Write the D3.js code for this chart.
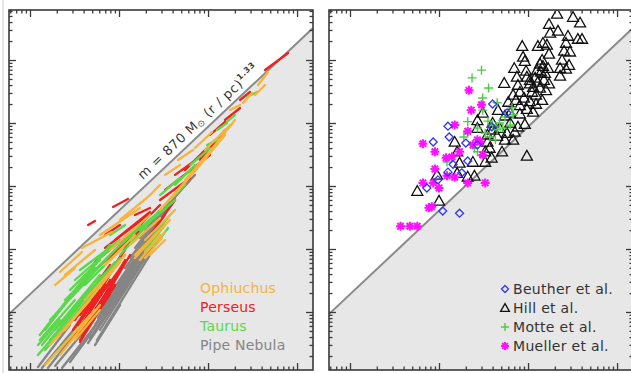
<!DOCTYPE html>
<html>
<head>
<meta charset="utf-8">
<script src="https://cdn.jsdelivr.net/npm/d3@7"></script>
<style>
  body { margin: 0; background: #fff; }
  svg { display: block; font-family: "DejaVu Sans", sans-serif; }
</style>
</head>
<body>
<svg id="chart" width="631" height="373"></svg>
<script>
// Axis extents: radius in pc, mass in Msun
const rRange = [0.00581, 15.1];
const mRange = [0.12, 62200];

// Threshold relation m = 870 Msun (r/pc)^1.33
const lawCoef = 870;
const lawExp = 1.33;

// Left panel: mass-size tracks, each [r0, m0, r1, m1]
const pipeTracks = [
  [0.0384, 0.299, 0.151, 4.99], [0.0415, 0.359, 0.172, 6.22], [0.0449, 0.322, 0.196, 7.19],
  [0.0472, 0.387, 0.212, 8.96], [0.0511, 0.431, 0.223, 11.6], [0.0426, 0.518, 0.133, 5.57],
  [0.0537, 0.622, 0.196, 9.64], [0.0581, 0.803, 0.223, 13.9], [0.0612, 1.0, 0.254, 16.7],
  [0.0498, 0.694, 0.117, 3.87], [0.0697, 1.29, 0.223, 14.9], [0.0793, 1.67, 0.254, 18.6],
  [0.0902, 2.40, 0.289, 24.0], [0.1026, 3.22, 0.289, 26.8], [0.117, 4.99, 0.329, 34.6],
  [0.133, 7.19, 0.374, 49.9], [0.151, 10.4, 0.426, 64.5], [0.172, 14.9, 0.551, 104],
  [0.196, 20.0, 0.628, 124], [0.223, 26.8, 0.714, 150], [0.0123, 0.134, 0.0281, 0.622],
  [0.0136, 0.129, 0.0365, 0.694], [0.0159, 0.129, 0.0346, 0.518], [0.0191, 0.139, 0.0415, 0.518],
  [0.0229, 0.129, 0.0449, 0.431], [0.0281, 0.161, 0.0472, 0.431],
  [0.0566, 0.359, 0.223, 8.03], [0.0612, 0.518, 0.235, 10.4], [0.0537, 0.299, 0.1026, 1.29],
  [0.0697, 0.896, 0.172, 6.22]
];
const perseusTracks = [
  [0.032, 0.431, 0.0793, 3.22], [0.0365, 0.359, 0.0902, 2.68], [0.0346, 0.622, 0.0697, 2.68],
  [0.0415, 0.518, 0.1026, 4.64], [0.0472, 0.746, 0.117, 6.69], [0.0537, 0.896, 0.133, 8.03],
  [0.0365, 0.896, 0.0612, 2.23], [0.0537, 1.55, 0.133, 13.9], [0.0449, 24.0, 0.0537, 27.8],
  [0.0857, 46.4, 0.126, 62.2], [0.0537, 4.64, 0.151, 16.7], [0.0793, 6.69, 0.223, 28.9],
  [0.117, 13.9, 0.289, 49.9], [0.151, 34.6, 0.223, 44.7], [0.289, 59.9, 0.628, 134],
  [0.329, 86.4, 1.05, 310], [0.426, 150, 0.813, 288], [0.551, 179, 1.20, 537],
  [0.813, 259, 1.55, 774], [1.05, 645, 1.55, 1038], [1.55, 1117, 2.29, 1730],
  [2.29, 2318, 2.96, 3105], [4.37, 6930, 7.93, 12900], [0.223, 16.7, 0.426, 59.9],
  [0.0612, 2.68, 0.117, 9.64], [0.0415, 1.55, 0.0793, 5.57], [0.0697, 16.7, 0.1026, 24.0],
  [0.0304, 0.518, 0.0612, 2.23], [0.032, 0.431, 0.066, 2.08], [0.0337, 0.387, 0.0697, 1.86],
  [0.0365, 0.482, 0.0752, 2.23], [0.0384, 0.416, 0.0793, 1.93], [0.0415, 0.518, 0.0833, 2.40],
  [0.032, 0.746, 0.0581, 2.68], [0.0449, 0.622, 0.0902, 2.68], [0.0365, 0.334, 0.0537, 0.803],
  [0.0472, 1.08, 0.117, 6.22], [0.0537, 6.22, 0.172, 24.0], [0.0697, 10.4, 0.212, 34.6],
  [0.0902, 13.9, 0.223, 38.7]
];
const taurusTracks = [
  [0.0129, 0.431, 0.0793, 11.6], [0.0148, 0.518, 0.0537, 5.57], [0.0136, 0.299, 0.0612, 3.87],
  [0.0168, 0.746, 0.0415, 2.89], [0.0191, 0.896, 0.0793, 8.03], [0.0217, 1.08, 0.0537, 4.99],
  [0.0281, 2.23, 0.0612, 6.69], [0.0247, 1.55, 0.1026, 11.6], [0.0123, 0.208, 0.0365, 1.29],
  [0.0148, 0.144, 0.0472, 0.896], [0.0415, 2.68, 0.133, 13.9], [0.0612, 5.57, 0.172, 24.0],
  [0.1026, 11.6, 0.254, 34.6], [0.223, 10.4, 0.329, 18.6], [0.254, 11.6, 0.356, 21.5],
  [0.172, 20.0, 0.426, 59.9], [0.254, 34.6, 0.551, 104], [0.289, 71.9, 0.484, 134],
  [0.426, 104, 0.714, 215], [0.628, 215, 1.05, 401], [0.975, 448, 1.48, 600],
  [1.26, 774, 1.63, 1000], [1.63, 1038, 2.01, 1340], [2.74, 2590, 3.56, 3105],
  [0.0793, 16.7, 0.117, 24.0], [0.1026, 8.03, 0.223, 26.8],
  [0.0129, 0.359, 0.032, 1.55], [0.0148, 0.249, 0.0612, 2.68], [0.0168, 0.359, 0.0697, 3.87],
  [0.0191, 0.518, 0.0902, 6.22], [0.0217, 0.622, 0.1026, 7.19], [0.0281, 0.896, 0.117, 8.03],
  [0.0123, 0.299, 0.0217, 0.746], [0.032, 3.22, 0.0902, 11.6], [0.0365, 4.64, 0.1026, 13.9],
  [0.196, 9.64, 0.329, 24.0], [0.223, 13.9, 0.374, 34.6]
];
const ophiuchusTracks = [
  [0.0191, 2.68, 0.032, 4.99], [0.0247, 3.87, 0.0537, 9.64], [0.0384, 10.4, 0.0833, 18.6],
  [0.0612, 16.7, 0.172, 44.7], [0.0793, 9.64, 0.223, 34.6], [0.223, 71.9, 0.289, 104],
  [0.329, 150, 0.484, 215], [0.46, 259, 0.678, 373], [0.714, 401, 1.11, 720],
  [1.77, 1608, 2.29, 1931], [2.47, 2076, 3.12, 2993], [3.65, 4010, 4.72, 6450],
  [0.0168, 0.299, 0.0415, 1.29], [0.0217, 0.208, 0.0612, 1.29], [0.032, 0.359, 0.0612, 1.08],
  [0.0415, 1.55, 0.117, 8.03], [0.151, 8.03, 0.329, 24.0], [0.172, 9.64, 0.374, 28.9],
  [0.133, 11.6, 0.289, 31.0], [0.196, 13.9, 0.426, 41.6], [0.0697, 5.57, 0.151, 16.7],
  [0.289, 41.6, 0.714, 179], [0.374, 59.9, 0.813, 215], [0.551, 124, 1.20, 448],
  [0.813, 215, 1.55, 645], [1.20, 448, 2.01, 1117], [0.172, 6.69, 0.289, 16.7],
  [0.223, 8.03, 0.329, 13.9], [0.0148, 0.144, 0.0537, 1.08], [0.1026, 28.9, 0.223, 71.9],
  [0.925, 373, 1.77, 930], [3.37, 2783, 4.37, 4010], [0.0217, 4.31, 0.0384, 8.96],
  [0.151, 7.19, 0.289, 20.0], [0.196, 8.96, 0.329, 18.6], [0.196, 7.19, 0.304, 14.9],
  [0.0191, 0.359, 0.0472, 1.55], [0.0247, 0.518, 0.1026, 6.22]
];

// Right panel: clumps, each [r, m]
const hillPoints = [
  [2.12, 54000], [3.2, 48000], [1.72, 37000], [3.84, 39000], [1.77, 27000], [2.17, 29000],
  [2.81, 24000], [3.63, 21500], [4.04, 21500], [0.86, 16600], [1.29, 16600], [1.47, 18600],
  [1.63, 17400], [2.67, 18600], [2.54, 13900], [2.96, 13500], [1.72, 12500], [0.88, 11200],
  [0.92, 9600], [2.41, 10000], [2.29, 7400], [2.89, 8300], [2.67, 7200], [0.70, 7400],
  [0.95, 6700], [1.68, 7400], [2.29, 5600], [0.75, 5400], [0.54, 4300], [1.72, 4200],
  [1.44, 10000], [1.36, 8700], [1.47, 8000], [1.26, 6900], [1.40, 6500], [1.55, 6200],
  [1.2, 5200], [1.05, 4800], [1.29, 4500], [1.51, 4800], [0.97, 5400], [0.77, 4000],
  [1.05, 4200], [1.14, 3700], [1.11, 3100], [1.23, 2800], [1.36, 3600], [1.59, 3300],
  [0.68, 2800], [0.81, 3100], [0.60, 2150], [0.73, 2300], [0.90, 2500], [1.05, 2200],
  [1.23, 2000], [1.44, 2300], [0.81, 1900], [0.97, 1660], [1.14, 1500], [0.63, 1450],
  [0.31, 1450], [0.46, 1600], [0.55, 1300], [0.81, 1400], [0.27, 1100], [0.40, 1000],
  [0.48, 830], [0.63, 1000], [0.77, 870], [0.92, 960], [0.71, 720], [0.58, 690],
  [0.40, 780], [0.45, 620], [0.55, 540], [0.68, 540], [0.35, 650], [0.35, 500],
  [0.37, 400], [0.33, 350], [0.39, 280], [0.51, 350], [0.97, 300], [0.15, 500],
  [0.24, 240], [0.33, 240], [0.21, 140], [0.25, 145], [0.16, 160], [0.095, 150],
  [0.057, 83], [0.1, 58], [0.17, 233], [0.27, 830], [0.16, 350]
];
const motteP = [
  [0.30, 6900], [0.235, 5200], [0.36, 3600], [0.31, 2500], [0.45, 2100], [0.66, 1740],
  [0.21, 1050], [0.27, 830], [0.355, 1070], [0.40, 930], [0.45, 780], [0.33, 690],
  [0.37, 600], [0.19, 600], [0.21, 720], [0.25, 400], [0.27, 350], [0.123, 240],
  [0.55, 1250], [0.68, 1350], [0.48, 1000], [0.52, 830], [0.31, 1600], [0.63, 930], [0.43, 540]
];
const muellerPoints = [
  [0.217, 3300], [0.23, 1600], [0.30, 1950], [0.15, 930], [0.21, 740], [0.066, 470],
  [0.09, 350], [0.24, 450], [0.29, 500], [0.31, 310], [0.17, 350], [0.12, 280],
  [0.14, 290], [0.09, 186], [0.123, 145], [0.15, 138], [0.066, 112], [0.086, 112],
  [0.10, 93], [0.21, 112], [0.33, 112], [0.083, 47], [0.077, 45], [0.037, 23],
  [0.047, 23], [0.057, 23], [0.27, 540]
];
const beutherPoints = [
  [0.40, 2000], [0.58, 1450], [0.126, 890], [0.13, 600], [0.086, 500], [0.20, 480],
  [0.39, 870], [0.144, 220], [0.21, 250], [0.126, 166], [0.18, 162], [0.097, 125],
  [0.073, 93], [0.11, 40], [0.17, 37], [0.27, 450]
];

const cloudNames = ["Ophiuchus", "Perseus", "Taurus", "Pipe Nebula"];
const surveyNames = ["Beuther et al.", "Hill et al.", "Motte et al.", "Mueller et al."];

const colors = {
  oph: "#f6b43c", per: "#ee2020", tau: "#5ad84a", pipe: "#858585",
  beuther: "#3535f0", hill: "#111111", motte: "#4ccc44", mueller: "#ff10ff"
};

const svg = d3.select("#chart");
const W = 304, H = 360;

const x = d3.scaleLog().domain(rRange).range([0, W]);
const y = d3.scaleLog().domain(mRange).range([H, 0]);

// thin border at the far left of the capture
svg.append("line").attr("x1", 3).attr("x2", 3).attr("y1", 0).attr("y2", 373)
  .attr("stroke", "#c8c8c8").attr("stroke-width", 1);

function setupPanel(id, left, top) {
  const g = svg.append("g").attr("transform", `translate(${left},${top})`);
  g.append("clipPath").attr("id", id).append("rect").attr("width", W).attr("height", H);
  const body = g.append("g").attr("clip-path", `url(#${id})`);

  // shaded zone below the threshold
  const ends = rRange.map(r => [x(r), y(lawCoef * Math.pow(r, lawExp))]);
  body.append("path")
    .attr("d", `M${ends[0]}L${ends[1]}L${W},${H}L0,${H}Z`)
    .attr("fill", "#e7e7e7");
  body.append("line")
    .attr("x1", ends[0][0]).attr("y1", ends[0][1])
    .attr("x2", ends[1][0]).attr("y2", ends[1][1])
    .attr("stroke", "#8a8a8a").attr("stroke-width", 2);
  return {g, body};
}

function drawFrame(g) {
  const isMajor = v => Math.abs(Math.log10(v) - Math.round(Math.log10(v))) < 1e-6;
  const xt = x.ticks(), yt = y.ticks();
  const xMaj = xt.filter(isMajor), xMin = xt.filter(v => !isMajor(v));
  const yMaj = yt.filter(isMajor), yMin = yt.filter(v => !isMajor(v));

  const axes = [
    [d3.axisBottom(x), `translate(0,${H})`, xMaj, xMin],
    [d3.axisTop(x), "translate(0,0)", xMaj, xMin],
    [d3.axisLeft(y), "translate(0,0)", yMaj, yMin],
    [d3.axisRight(y), `translate(${W},0)`, yMaj, yMin]
  ];
  axes.forEach(([ax, tr, maj, min]) => {
    [[maj, 7], [min, 3.5]].forEach(([vals, len]) => {
      const a = g.append("g").attr("transform", tr)
        .call(ax.tickValues(vals).tickSize(-len).tickFormat(""));
      a.select(".domain").remove();
      a.selectAll("line").attr("stroke", "#3a3a3a").attr("stroke-width", 1.3);
    });
  });

  g.append("rect").attr("width", W).attr("height", H)
    .attr("fill", "none").attr("stroke", "#3a3a3a").attr("stroke-width", 1.6);
}

// ---------- left panel ----------
const left = setupPanel("clipL", 9, 10);

[[pipeTracks, colors.pipe], [perseusTracks, colors.per],
 [taurusTracks, colors.tau], [ophiuchusTracks, colors.oph]].forEach(([tracks, c]) => {
  left.body.append("g").selectAll("line").data(tracks).join("line")
    .attr("x1", d => x(d[0])).attr("y1", d => y(d[1]))
    .attr("x2", d => x(d[2])).attr("y2", d => y(d[3]))
    .attr("stroke", c).attr("stroke-width", 2.3).attr("stroke-linecap", "round");
});

// label along the threshold line
const rLab = 0.206, rLab2 = 1.0;
const lx = x(rLab), ly = y(lawCoef * Math.pow(rLab, lawExp));
const ang = Math.atan2(y(lawCoef * Math.pow(rLab2, lawExp)) - ly, x(rLab2) - lx) * 180 / Math.PI;
const lab = left.g.append("text")
  .attr("transform", `translate(${lx},${ly}) rotate(${ang})`)
  .attr("y", -6).attr("fill", "#3a3a3a").attr("font-size", 13).attr("letter-spacing", 0.6);
lab.append("tspan").text("m = 870 M");
lab.append("tspan").attr("font-size", 9).attr("dy", 2).text("⊙");
lab.append("tspan").attr("dy", -2).text(" (r / pc)");
lab.append("tspan").attr("font-size", 8).attr("dy", -6).attr("font-weight", "bold").text("1.33");

const cloudColors = [colors.oph, colors.per, colors.tau, colors.pipe];
left.g.append("g").selectAll("text").data(cloudNames).join("text")
  .attr("x", 191).attr("y", (d, i) => 283 + i * 19)
  .attr("fill", (d, i) => cloudColors[i])
  .attr("font-size", 14).attr("letter-spacing", 0.2)
  .text(d => d);

drawFrame(left.g);

// ---------- right panel ----------
const right = setupPanel("clipR", 329, 10);

const triPath = s => `M0,${-s * 0.55}L${s * 0.55},${s * 0.42}L${-s * 0.55},${s * 0.42}Z`;
const diaPath = s => `M0,${-s / 2}L${s / 2},0L0,${s / 2}L${-s / 2},0Z`;
const plusPath = s => `M${-s / 2},0H${s / 2}M0,${-s / 2}V${s / 2}`;
const starPath = s => {
  const a = s / 2, b = s * 0.36;
  return `M${-a},0H${a}M0,${-a}V${a}M${-b},${-b}L${b},${b}M${-b},${b}L${b},${-b}`;
};

function markers(g, pts, path, stroke, width) {
  g.append("g").selectAll("path").data(pts).join("path")
    .attr("transform", d => `translate(${x(d[0])},${y(d[1])})`)
    .attr("d", path).attr("fill", "none")
    .attr("stroke", stroke).attr("stroke-width", width);
}

markers(right.body, hillPoints, triPath(10), colors.hill, 1.3);
markers(right.body, motteP, plusPath(9), colors.motte, 1.4);
markers(right.body, muellerPoints, starPath(9), colors.mueller, 2);
markers(right.body, beutherPoints, diaPath(8), colors.beuther, 1.3);

// legend
const legendShapes = [
  [diaPath(7), colors.beuther, 1.3], [triPath(8), colors.hill, 1.3],
  [plusPath(8), colors.motte, 1.4], [starPath(8), colors.mueller, 2]
];
const leg = right.g.append("g");
surveyNames.forEach((name, i) => {
  const cy = 279 + i * 19;
  leg.append("path").attr("transform", `translate(176,${cy})`)
    .attr("d", legendShapes[i][0]).attr("fill", "none")
    .attr("stroke", legendShapes[i][1]).attr("stroke-width", legendShapes[i][2]);
  leg.append("text").attr("x", 184).attr("y", cy + 5)
    .attr("fill", "#333").attr("font-size", 14).attr("letter-spacing", 0.3)
    .text(name);
});

drawFrame(right.g);
</script>
</body>
</html>
